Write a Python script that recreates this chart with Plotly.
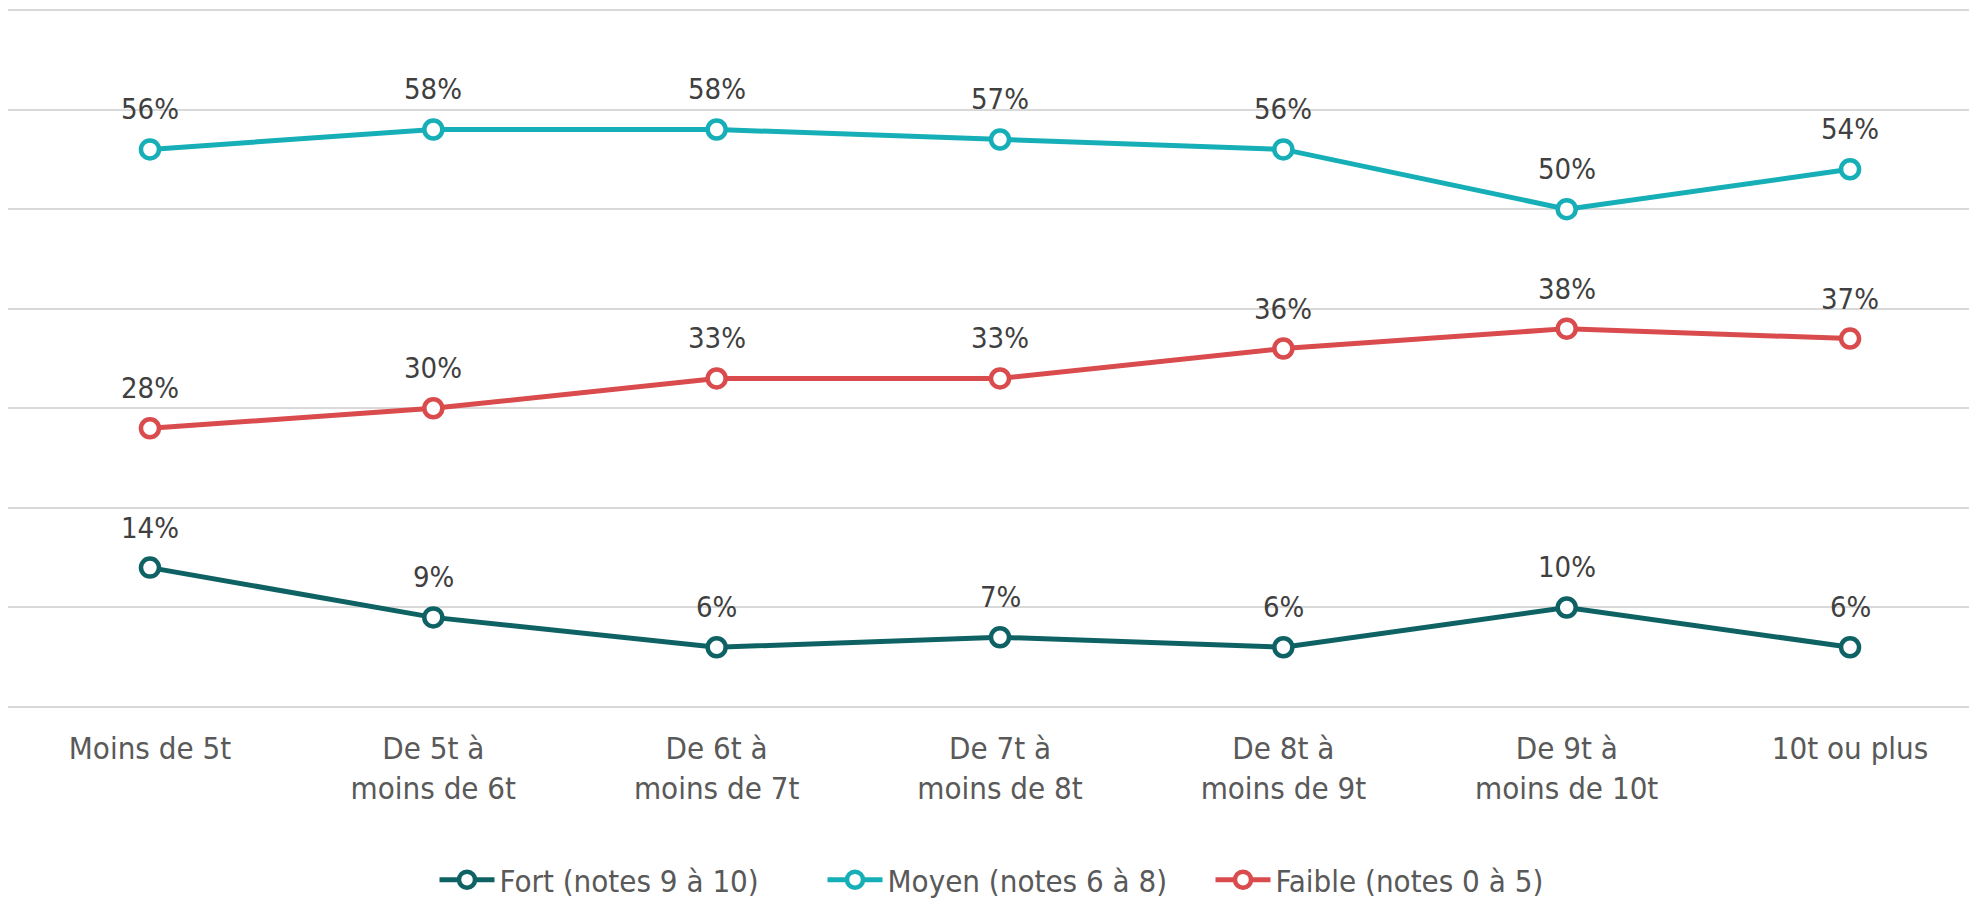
import plotly.graph_objects as go

categories = ["Moins de 5t", "De 5t à<br>moins de 6t", "De 6t à<br>moins de 7t",
              "De 7t à<br>moins de 8t", "De 8t à<br>moins de 9t", "De 9t à<br>moins de 10t",
              "10t ou plus"]
fort = [14, 9, 6, 7, 6, 10, 6]
moyen = [56, 58, 58, 57, 56, 50, 54]
faible = [28, 30, 33, 33, 36, 38, 37]

series_names = ["Fort (notes 9 à 10)", "Moyen (notes 6 à 8)", "Faible (notes 0 à 5)"]
series_colors = ["#0F6264", "#16AFB7", "#D94B4D"]

FONT = "DejaVu Sans Condensed"
x = list(range(len(categories)))

fig = go.Figure()
annotations = []
for name, vals, col in zip(series_names, [fort, moyen, faible], series_colors):
    fig.add_trace(go.Scatter(
        x=x, y=vals, name=name, mode="lines+markers",
        line=dict(color=col, width=5),
        marker=dict(symbol="circle", size=18, color="white", line=dict(color=col, width=4.5)),
        cliponaxis=False,
    ))
    for xi, v in zip(x, vals):
        annotations.append(dict(
            x=xi, y=v, xref="x", yref="y", text=f"{v}%", showarrow=False,
            xanchor="center", yanchor="middle", yshift=40,
            font=dict(family=FONT, size=29, color="#404040"),
        ))

# page body adds an 8px offset; figure sized to fill the rest of the 1977x900 window
W, H = 1969, 892
fig.update_layout(
    width=W, height=H,
    margin=dict(l=0, r=0, t=0, b=191, autoexpand=False),
    paper_bgcolor="white", plot_bgcolor="white",
    showlegend=True,
    annotations=annotations,
    legend=dict(orientation="h", xref="container", x=426.5 / W, xanchor="left",
                yref="container", y=1 - 872 / H, yanchor="middle",
                font=dict(family=FONT, size=31, color="#595959"),
                itemwidth=55, entrywidth=318,
                traceorder="normal"),
    xaxis=dict(range=[-0.501, 6.448], tickmode="array", tickvals=x, ticktext=categories,
               showgrid=False, zeroline=False, showline=False, ticks="",
               automargin=False, ticklabelstandoff=18,
               tickfont=dict(family=FONT, size=31, color="#595959")),
    yaxis=dict(range=[-0.2, 70.2], tickmode="array", tickvals=[0, 10, 20, 30, 40, 50, 60, 70],
               showticklabels=False, showgrid=True, automargin=False,
               gridcolor="#D9D9D9", gridwidth=2, zeroline=False, showline=False, ticks=""),
)

fig.write_html("out.html")
